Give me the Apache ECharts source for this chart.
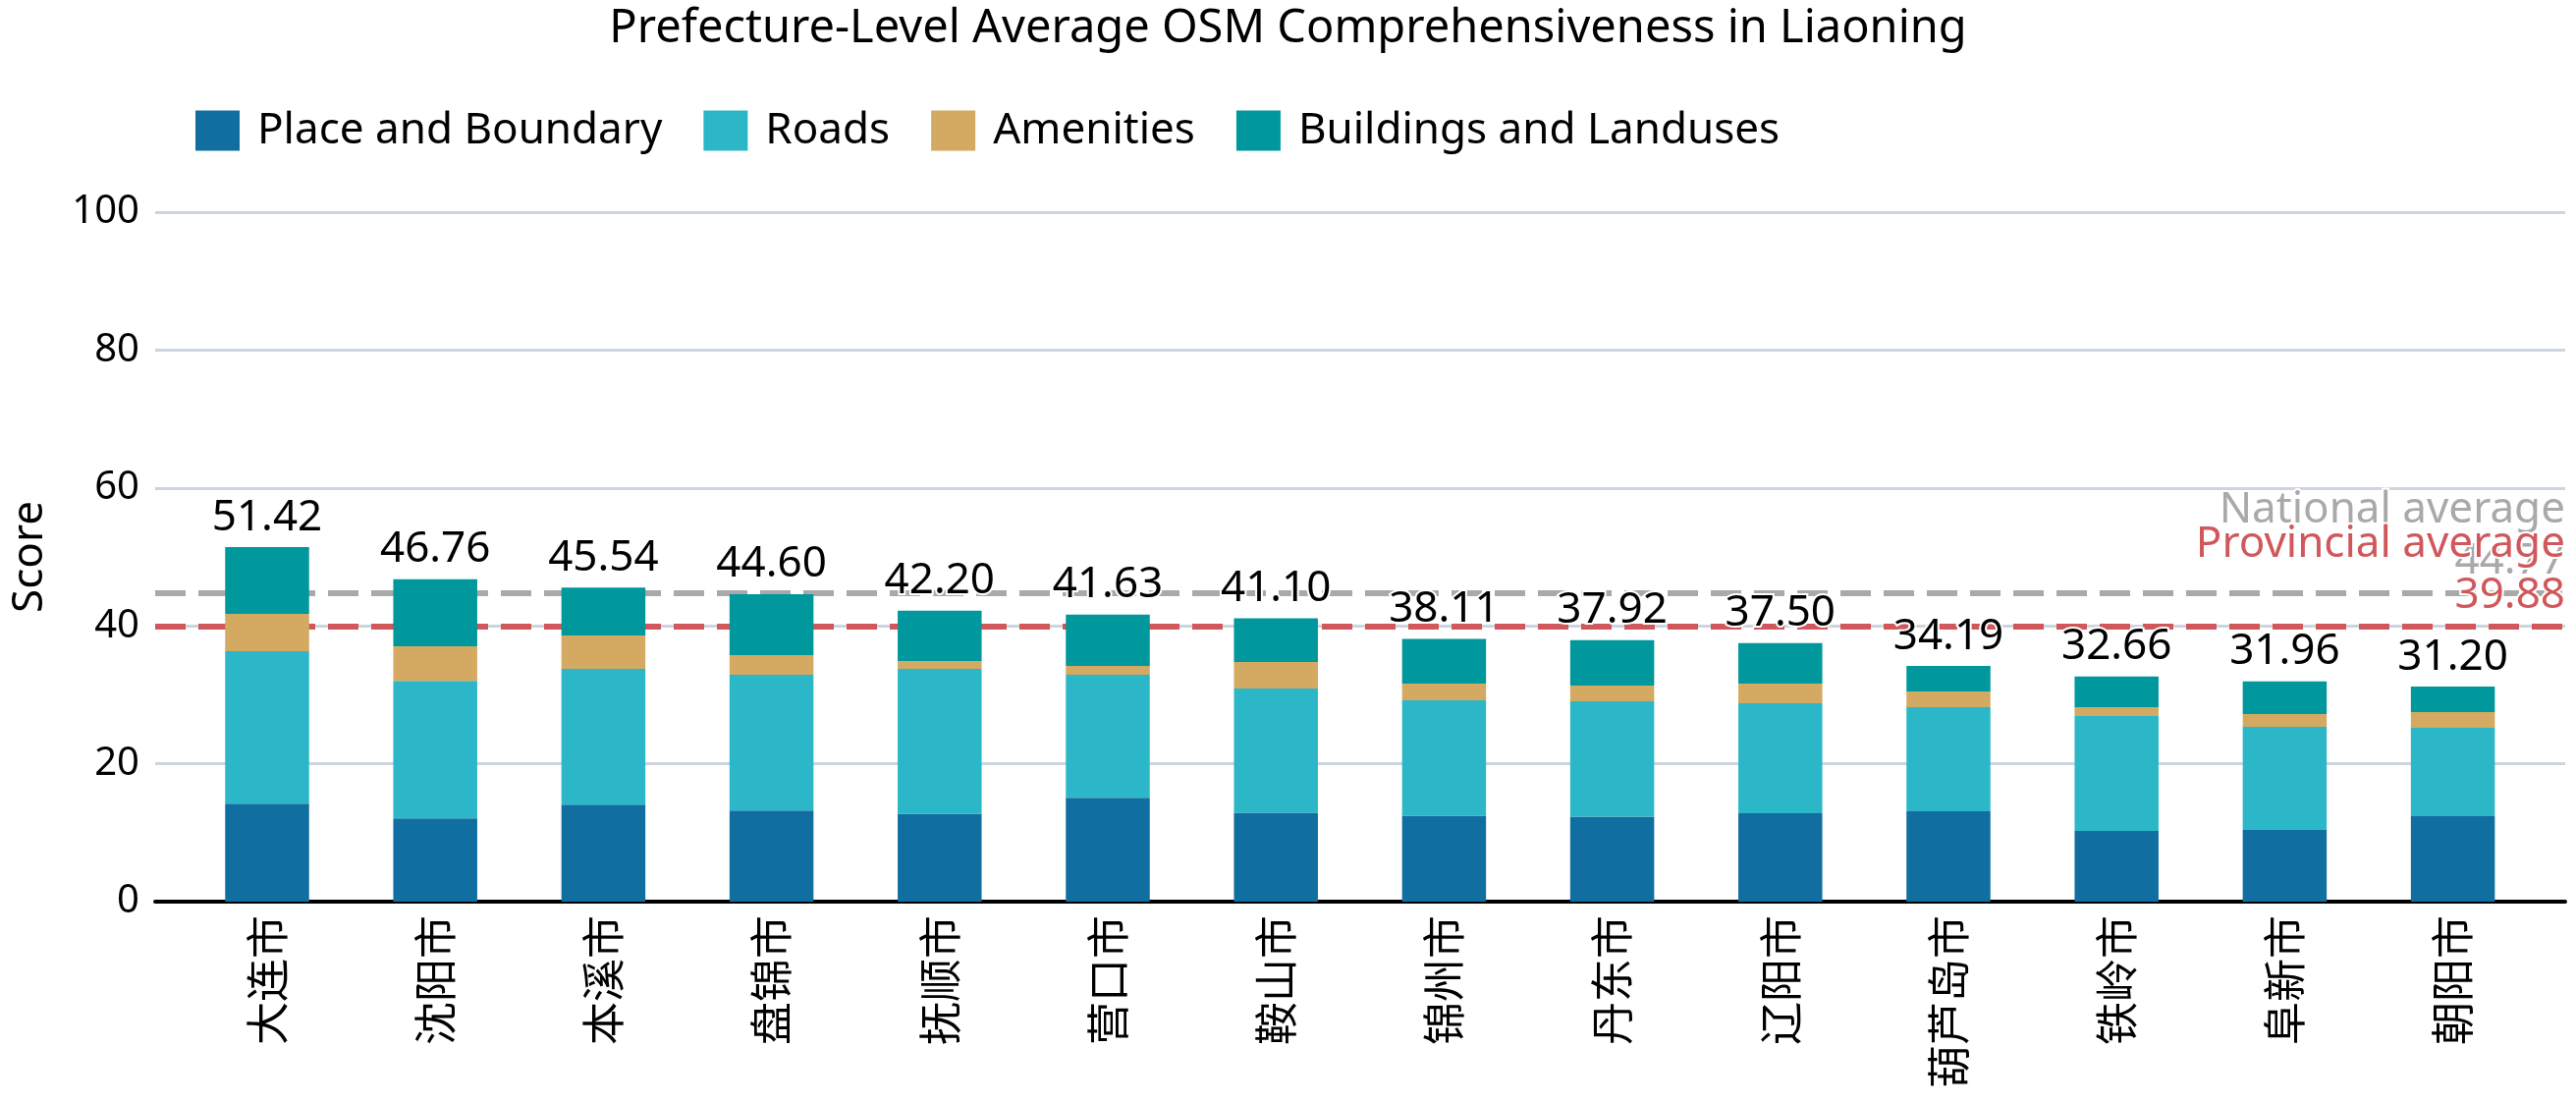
<!DOCTYPE html>
<html>
<head>
<meta charset="utf-8">
<script src="https://cdn.jsdelivr.net/npm/echarts@6/dist/echarts.min.js"></script>
<style>html,body{margin:0;padding:0;background:#fff;}#c{width:2623px;height:1122px;}</style>
</head>
<body>
<div id="c"></div>
<script>
const categories = ['大连市','沈阳市','本溪市','盘锦市','抚顺市','营口市','鞍山市','锦州市','丹东市','辽阳市','葫芦岛市','铁岭市','阜新市','朝阳市'];
const totals = [51.42,46.76,45.54,44.60,42.20,41.63,41.10,38.11,37.92,37.50,34.19,32.66,31.96,31.20];
const placeBoundary = [14.21,12.07,14.07,13.21,12.76,15.05,12.90,12.48,12.33,12.83,13.11,10.26,10.40,12.40];
const roads = [22.10,19.96,19.68,19.68,21.00,17.85,18.00,16.71,16.72,15.96,15.11,16.68,14.97,12.83];
const amenities = [5.42,4.99,4.84,2.85,1.14,1.29,3.86,2.43,2.28,2.85,2.28,1.28,1.85,2.28];
const buildings = [9.69,9.74,6.95,8.86,7.30,7.44,6.34,6.49,6.59,5.86,3.69,4.44,4.74,3.69];
const seriesNames = ['Place and Boundary','Roads','Amenities','Buildings and Landuses'];
const nationalAverage = 44.77;
const provincialAverage = 39.88;

const colors = ['#116ea1','#2cb7c8','#d4a962','#00989c'];
const FONT = '"Noto Sans", "Noto Sans CJK SC", sans-serif';
const chart = echarts.init(document.getElementById('c'));

function barSeries(name, data, idx, withLabel) {
  const s = {
    name: name, type: 'bar', stack: 'total', data: data,
    xAxisIndex: 1, yAxisIndex: 1, barWidth: 85.5, z: 5,
    itemStyle: {color: colors[idx]},
    emphasis: {disabled: true}
  };
  if (withLabel) {
    s.label = {
      show: true, position: 'top', distance: 8,
      formatter: p => totals[p.dataIndex].toFixed(2),
      fontFamily: FONT, fontSize: 44, color: '#000',
      textBorderColor: '#fff', textBorderWidth: 4
    };
  }
  return s;
}

function avgLine(name, value, color, z) {
  return {
    name: name, type: 'line', data: [], xAxisIndex: 0, yAxisIndex: 0, z: z,
    markLine: {
      silent: true, symbol: 'none', z: z,
      lineStyle: {color: color, width: 6, type: [31, 13]},
      label: {
        show: true, position: 'insideEndTop', distance: [0, 6],
        formatter: name + '\n' + value.toFixed(2),
        fontFamily: FONT, fontSize: 44, lineHeight: 52, color: color,
        align: 'right',
        textBorderColor: '#fff', textBorderWidth: 4
      },
      data: [{yAxis: value}]
    }
  };
}

chart.setOption({
  animation: false,
  backgroundColor: '#fff',
  title: {
    text: 'Prefecture-Level Average OSM Comprehensiveness in Liaoning',
    left: 'center', top: 1,
    textStyle: {fontFamily: FONT, fontSize: 47, fontWeight: 'normal', color: '#000'}
  },
  legend: {
    data: seriesNames, left: 194, top: 106, itemWidth: 45, itemHeight: 41, itemGap: 42,
    icon: 'rect',
    textStyle: {fontFamily: FONT, fontSize: 44, color: '#000', padding: [0, 0, 0, 13]}
  },
  grid: [
    {left: 152, right: 11, top: 216, bottom: 204, containLabel: false},
    {left: 186.4, right: 39.8, top: 216, bottom: 204, containLabel: false}
  ],
  xAxis: [
    {gridIndex: 0, type: 'value', min: 0, max: 1, axisLine: {show: true, lineStyle: {color: '#000', width: 4}},
     axisTick: {show: false}, axisLabel: {show: false}, splitLine: {show: false}},
    {gridIndex: 1, type: 'category', data: categories, axisLine: {show: false}, axisTick: {show: false},
     axisLabel: {rotate: 90, margin: 14, fontFamily: '"Noto Sans CJK SC", sans-serif', fontSize: 44, color: '#000', interval: 0}}
  ],
  yAxis: [
    {gridIndex: 0, type: 'value', min: 0, max: 100, interval: 20,
     name: 'Score', nameLocation: 'middle', nameGap: 106,
     nameTextStyle: {fontFamily: FONT, fontSize: 44, color: '#000'},
     axisLine: {show: false}, axisTick: {show: false},
     axisLabel: {margin: 16, fontFamily: FONT, fontSize: 40, color: '#000'},
     splitLine: {show: true, lineStyle: {color: '#ccd5df', width: 3}}},
    {gridIndex: 1, type: 'value', min: 0, max: 100, show: false, splitLine: {show: false}}
  ],
  series: [
    avgLine('National average', nationalAverage, '#a9a9a9', 1),
    avgLine('Provincial average', provincialAverage, '#d0585c', 2),
    barSeries(seriesNames[0], placeBoundary, 0, false),
    barSeries(seriesNames[1], roads, 1, false),
    barSeries(seriesNames[2], amenities, 2, false),
    barSeries(seriesNames[3], buildings, 3, true)
  ]
});
</script>
</body>
</html>
